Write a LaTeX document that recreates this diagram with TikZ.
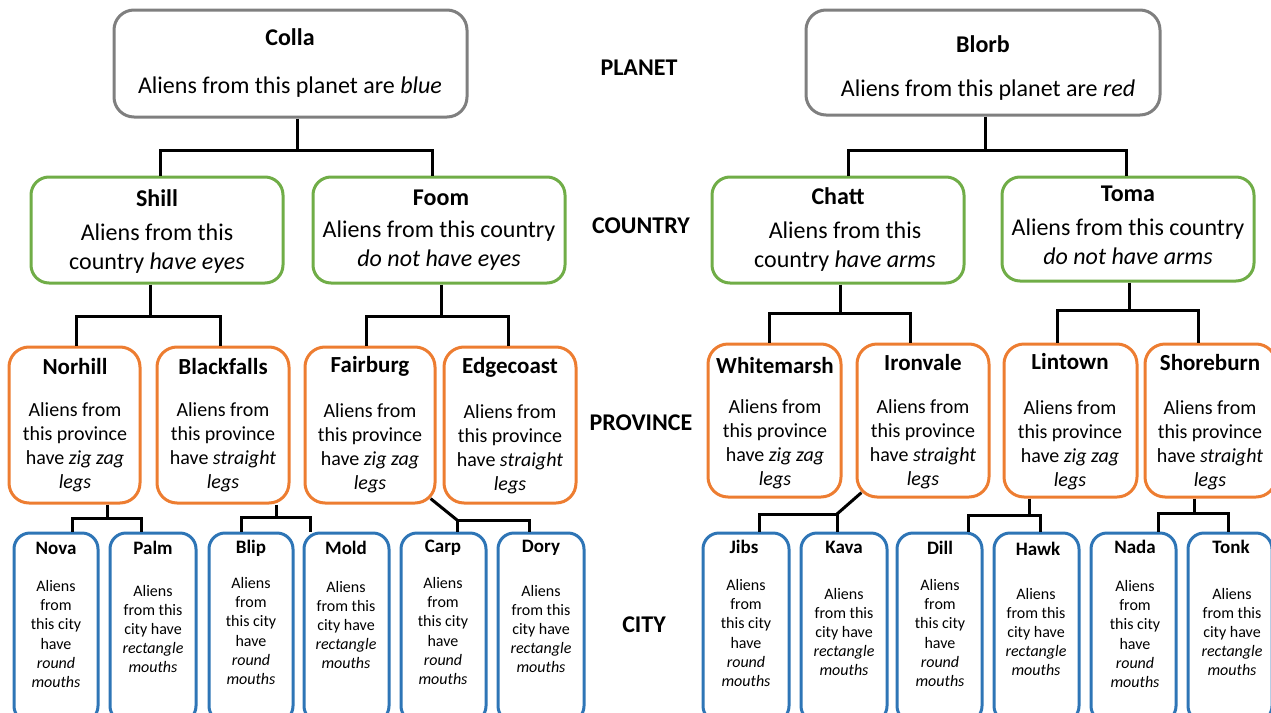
\documentclass[tikz,border=0pt]{standalone}
\usepackage{fontspec}
\setmainfont{Carlito}
\definecolor{planetc}{HTML}{7F7F7F}
\definecolor{countryc}{HTML}{70AD47}
\definecolor{provc}{HTML}{ED7D31}
\definecolor{cityc}{HTML}{2E75B6}
\tikzset{
  boxbase/.style={draw, line width=3pt, fill=white, inner sep=0pt, rectangle},
  planetbox/.style={boxbase, draw=planetc, rounded corners=20pt},
  countrybox/.style={boxbase, draw=countryc, rounded corners=18pt},
  provbox/.style={boxbase, draw=provc, rounded corners=20pt},
  citybox/.style={boxbase, draw=cityc, rounded corners=16pt},
  bigtitle/.style={font=\bfseries\fontsize{24}{29}\selectfont, inner sep=0pt},
  bigtext/.style={font=\fontsize{24}{29}\selectfont, align=center, inner sep=0pt},
  provtitle/.style={font=\bfseries\fontsize{23}{28}\selectfont, inner sep=0pt},
  provtext/.style={font=\fontsize{20}{24}\selectfont, align=center, inner sep=0pt},
  citytitle/.style={font=\bfseries\fontsize{19}{23}\selectfont, inner sep=0pt},
  citytext/.style={font=\fontsize{16}{19.2}\selectfont, align=center, inner sep=0pt},
  level/.style={font=\bfseries\fontsize{24}{29}\selectfont, inner sep=0pt},
  conn/.style={line width=3pt, draw=black},
}
% name, style, x1, y1, x2, y2
\newcommand{\mkbox}[6]{\node[#2, minimum width={(#5-#3)*1pt}, minimum height={(#6-#4)*1pt}] (#1) at ({(#3+#5)/2},{(#4+#6)/2}) {};}
% parent, stem x, bar y, left x, right x, left child, right child
\newcommand{\tree}[7]{%
  \coordinate (#1-s) at (#2,#3);
  \coordinate (#1-l) at (#4,#3);
  \coordinate (#1-r) at (#5,#3);
  \draw[conn] (#1.south -| #1-s) -- (#1-s);
  \draw[conn] (#1-l |- #6.north) -- (#1-l) -- (#1-r) -- (#1-r |- #7.north);}
\begin{document}
\begin{tikzpicture}[x=1pt, y=-1pt]
\useasboundingbox (0,0) rectangle (1271,712);
\clip (0,0) rectangle (1271,712);

% ---------- boxes ----------
\mkbox{colla}{planetbox}{114}{10}{467}{117}
\mkbox{blorb}{planetbox}{806}{10}{1160}{115}

\mkbox{shill}{countrybox}{31}{177}{283}{283}
\mkbox{foom}{countrybox}{313}{177}{565}{283}
\mkbox{chatt}{countrybox}{712}{177}{964}{283}
\mkbox{toma}{countrybox}{1002}{177}{1254}{281}

\mkbox{norhill}{provbox}{9}{347}{140}{503}
\mkbox{blackfalls}{provbox}{157}{347}{289}{503}
\mkbox{fairburg}{provbox}{305}{347}{435}{503}
\mkbox{edgecoast}{provbox}{444}{347}{576}{503}
\mkbox{whitemarsh}{provbox}{708}{344}{841}{497}
\mkbox{ironvale}{provbox}{857}{344}{989}{497}
\mkbox{lintown}{provbox}{1004}{344}{1137}{497}
\mkbox{shoreburn}{provbox}{1145}{344}{1276}{497}

\mkbox{nova}{citybox}{14}{533}{98}{722}
\mkbox{palm}{citybox}{110}{533}{196}{722}
\mkbox{blip}{citybox}{209}{533}{293}{722}
\mkbox{mold}{citybox}{304}{533}{389}{722}
\mkbox{carp}{citybox}{401}{533}{486}{722}
\mkbox{dory}{citybox}{498}{533}{584}{722}
\mkbox{jibs}{citybox}{703}{533}{789}{722}
\mkbox{kava}{citybox}{801}{533}{887}{722}
\mkbox{dill}{citybox}{897}{533}{982}{722}
\mkbox{hawk}{citybox}{994}{533}{1079}{722}
\mkbox{nada}{citybox}{1091}{533}{1176}{722}
\mkbox{tonk}{citybox}{1188}{533}{1272}{722}

% ---------- texts ----------
\node[bigtitle] (colla-t) at (290,37) {Colla};
\node[bigtext] (colla-b) at (290,87) {Aliens from this planet are \textit{blue}};
\node[bigtitle] (blorb-t) at (983,44) {Blorb};
\node[bigtext] (blorb-b) at (988,90) {Aliens from this planet are \textit{red}};

\node[bigtitle] (shill-t) at (157,198) {Shill};
\node[bigtext] (shill-b) at (157,249) {Aliens from this\\country \textit{have eyes}};
\node[bigtitle] (foom-t) at (441,198) {Foom};
\node[bigtext] (foom-b) at (439,246) {Aliens from this country\\\textit{do not have eyes}};
\node[bigtitle] (chatt-t) at (838,196) {Chatt};
\node[bigtext] (chatt-b) at (845,247) {Aliens from this\\country \textit{have arms}};
\node[bigtitle] (toma-t) at (1128,194) {Toma};
\node[bigtext] (toma-b) at (1128,242) {Aliens from this country\\\textit{do not have arms}};

\node[provtitle] (norhill-t) at (75,367) {Norhill};
\node[provtext] (norhill-b) at (75,447) {Aliens from\\this province\\have \textit{zig zag}\\\textit{legs}};
\node[provtitle] (blackfalls-t) at (223,367) {Blackfalls};
\node[provtext] (blackfalls-b) at (223,447) {Aliens from\\this province\\have \textit{straight}\\\textit{legs}};
\node[provtitle] (fairburg-t) at (370,366) {Fairburg};
\node[provtext] (fairburg-b) at (370,448) {Aliens from\\this province\\have \textit{zig zag}\\\textit{legs}};
\node[provtitle] (edgecoast-t) at (510,367) {Edgecoast};
\node[provtext] (edgecoast-b) at (510,449) {Aliens from\\this province\\have \textit{straight}\\\textit{legs}};
\node[provtitle] (whitemarsh-t) at (775,366) {Whitemarsh};
\node[provtext] (whitemarsh-b) at (775,444) {Aliens from\\this province\\have \textit{zig zag}\\\textit{legs}};
\node[provtitle] (ironvale-t) at (923,363) {Ironvale};
\node[provtext] (ironvale-b) at (923,444) {Aliens from\\this province\\have \textit{straight}\\\textit{legs}};
\node[provtitle] (lintown-t) at (1070,362) {Lintown};
\node[provtext] (lintown-b) at (1070,445) {Aliens from\\this province\\have \textit{zig zag}\\\textit{legs}};
\node[provtitle] (shoreburn-t) at (1210,363) {Shoreburn};
\node[provtext] (shoreburn-b) at (1210,445) {Aliens from\\this province\\have \textit{straight}\\\textit{legs}};

\node[citytitle] (nova-t) at (56,548) {Nova};
\node[citytext] (nova-b) at (56,634) {Aliens\\from\\this city\\have\\\textit{round}\\\textit{mouths}};
\node[citytitle] (palm-t) at (153,548) {Palm};
\node[citytext] (palm-b) at (153,629) {Aliens\\from this\\city have\\\textit{rectangle}\\\textit{mouths}};
\node[citytitle] (blip-t) at (251,548) {Blip};
\node[citytext] (blip-b) at (251,631) {Aliens\\from\\this city\\have\\\textit{round}\\\textit{mouths}};
\node[citytitle] (mold-t) at (346,548) {Mold};
\node[citytext] (mold-b) at (346,625) {Aliens\\from this\\city have\\\textit{rectangle}\\\textit{mouths}};
\node[citytitle] (carp-t) at (443,548) {Carp};
\node[citytext] (carp-b) at (443,631) {Aliens\\from\\this city\\have\\\textit{round}\\\textit{mouths}};
\node[citytitle] (dory-t) at (541,548) {Dory};
\node[citytext] (dory-b) at (541,629) {Aliens\\from this\\city have\\\textit{rectangle}\\\textit{mouths}};
\node[citytitle] (jibs-t) at (744,547) {Jibs};
\node[citytext] (jibs-b) at (746,633) {Aliens\\from\\this city\\have\\\textit{round}\\\textit{mouths}};
\node[citytitle] (kava-t) at (844,547) {Kava};
\node[citytext] (kava-b) at (844,632) {Aliens\\from this\\city have\\\textit{rectangle}\\\textit{mouths}};
\node[citytitle] (dill-t) at (940,548) {Dill};
\node[citytext] (dill-b) at (940,633) {Aliens\\from\\this city\\have\\\textit{round}\\\textit{mouths}};
\node[citytitle] (hawk-t) at (1038,549) {Hawk};
\node[citytext] (hawk-b) at (1036,632) {Aliens\\from this\\city have\\\textit{rectangle}\\\textit{mouths}};
\node[citytitle] (nada-t) at (1135,547) {Nada};
\node[citytext] (nada-b) at (1135,634) {Aliens\\from\\this city\\have\\\textit{round}\\\textit{mouths}};
\node[citytitle] (tonk-t) at (1231,547) {Tonk};
\node[citytext] (tonk-b) at (1232,632) {Aliens\\from this\\city have\\\textit{rectangle}\\\textit{mouths}};

% ---------- level labels ----------
\node[level] (lv-planet) at (639,68) {PLANET};
\node[level] (lv-country) at (641,226) {COUNTRY};
\node[level] (lv-province) at (641,423) {PROVINCE};
\node[level] (lv-city) at (644,625) {CITY};

% ---------- connectors ----------
\tree{colla}{297}{150}{160}{432}{shill}{foom}
\tree{blorb}{985}{150}{848}{1126}{chatt}{toma}
\tree{shill}{150}{316}{76}{220}{norhill}{blackfalls}
\tree{foom}{441}{316}{366}{508}{fairburg}{edgecoast}
\tree{chatt}{840}{313}{769}{910}{whitemarsh}{ironvale}
\tree{toma}{1129}{310}{1057}{1198}{lintown}{shoreburn}
\tree{norhill}{107}{518}{72}{141}{nova}{palm}
\tree{blackfalls}{276}{517}{241}{310}{blip}{mold}
\tree{lintown}{1029}{515}{968}{1040}{dill}{hawk}
\tree{shoreburn}{1194}{513}{1158}{1228}{nada}{tonk}

% diagonal connectors
\coordinate (fairburg-l) at (457,520);
\coordinate (fairburg-r) at (529,520);
\draw[conn] ([shift={(-5.9,-5.9)}]fairburg.south east) -- (fairburg-l);
\draw[conn] (fairburg-l |- carp.north) -- (fairburg-l) -- (fairburg-r) -- (fairburg-r |- dory.north);
\coordinate (ironvale-l) at (759,514);
\coordinate (ironvale-r) at (837,514);
\draw[conn] ([shift={(5.9,-5.9)}]ironvale.south west) -- (ironvale-r);
\draw[conn] (ironvale-l |- jibs.north) -- (ironvale-l) -- (ironvale-r) -- (ironvale-r |- kava.north);
\end{tikzpicture}
\end{document}
